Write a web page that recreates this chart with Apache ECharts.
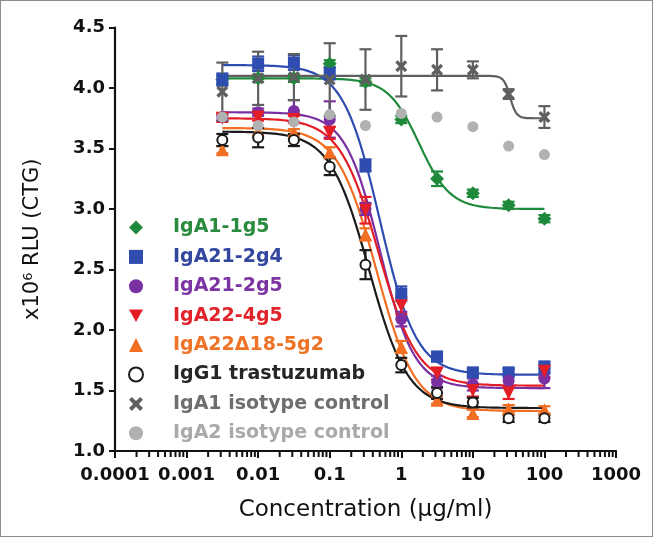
<!DOCTYPE html>
<html>
<head>
<meta charset="utf-8">
<script src="https://cdn.jsdelivr.net/npm/echarts@6/dist/echarts.min.js"></script>
<style>
html, body { margin: 0; padding: 0; background: #fff; }
#chart { position: absolute; left: 0; top: 0; width: 653px; height: 539px; }
#frame { position: absolute; left: 0; top: 0; width: 653px; height: 537px; box-sizing: border-box; border: 1px solid #8c8c8c; pointer-events: none; }
</style>
</head>
<body>
<div id="chart"></div>
<div id="frame"></div>
<script>
// concentrations (ug/ml), half-log dilutions
var conc = [0.00316, 0.01, 0.0316, 0.1, 0.316, 1, 3.16, 10, 31.6, 100];

var names = ['IgA1-1g5', 'IgA21-2g4', 'IgA21-2g5', 'IgA22-4g5', 'IgA22Δ18-5g2',
             'IgG1 trastuzumab', 'IgA1 isotype control', 'IgA2 isotype control'];

// x10^6 RLU
var igA1_1g5      = [4.07, 4.08, 4.08, 4.20, 4.05, 3.74, 3.25, 3.13, 3.03, 2.92];
var igA21_2g4     = [4.07, 4.20, 4.21, 4.12, 3.36, 2.30, 1.78, 1.65, 1.65, 1.69];
var igA21_2g5     = [3.76, 3.80, 3.81, 3.74, 3.00, 2.09, 1.57, 1.55, 1.58, 1.60];
var igA22_4g5     = [3.75, 3.76, 3.74, 3.63, 2.99, 2.20, 1.64, 1.50, 1.48, 1.66];
var igA22d18_5g2  = [3.49, 3.64, 3.63, 3.47, 2.79, 1.86, 1.42, 1.31, 1.35, 1.34];
var igG1Trast     = [3.57, 3.59, 3.57, 3.35, 2.54, 1.71, 1.48, 1.40, 1.27, 1.27];
var igA1Isotype   = [3.97, 4.08, 4.09, 4.07, 4.07, 4.18, 4.15, 4.15, 3.95, 3.76];
var igA2Isotype   = [3.76, 3.69, 3.72, 3.78, 3.69, 3.79, 3.76, 3.68, 3.52, 3.45];

// SEM bars
var errA1_1g5     = [0.03, 0.03, 0.03, 0.03, 0.03, 0.03, 0.06, 0.03, 0.03, 0.03];
var errA21_2g4    = [0.05, 0.06, 0.06, 0.05, 0.05, 0.06, 0.04, 0.03, 0.03, 0.05];
var errA21_2g5    = [0.03, 0.03, 0.09, 0.15, 0.05, 0.06, 0.05, 0.05, 0.05, 0.08];
var errA22_4g5    = [0.03, 0.03, 0.03, 0.05, 0.11, 0.07, 0.05, 0.05, 0.05, 0.05];
var errA22d18     = [0.03, 0.03, 0.03, 0.04, 0.05, 0.05, 0.03, 0.03, 0.03, 0.03];
var errG1         = [0.05, 0.08, 0.05, 0.07, 0.12, 0.06, 0.05, 0.04, 0.03, 0.03];
var errA1Iso      = [0.24, 0.22, 0.19, 0.30, 0.25, 0.25, 0.17, 0.07, 0.04, 0.09];

// 4PL fit parameters (top, bottom, logEC50, hill) for the first 7 groups
var fitTop     = [4.08, 4.19, 3.80, 3.75, 3.67, 3.64, 4.10];
var fitBottom  = [3.00, 1.63, 1.52, 1.54, 1.33, 1.355, 3.75];
var fitLogEC50 = [0.25, -0.30, -0.30, -0.32, -0.35, -0.45, 1.52];
var fitHill    = [2.0, 1.7, 1.8, 1.6, 1.6, 1.6, 10];

// x axis is drawn in log10 units
var xTickLabels = ['0.0001', '0.001', '0.01', '0.1', '1', '10', '100', '1000'];
var xMinExp = -4, xMaxExp = 3;
var yMin = 1, yMax = 4.5;

var colors     = ['#1f8a3b', '#2f4cb0', '#7a2fa3', '#e41e26', '#f26e22', '#1b1b1b', '#5f5f5f', '#b1b1b1'];
var textColors = ['#2a8a3e', '#34479f', '#7d34a3', '#e1242b', '#ef7326', '#262626', '#6e6e6e', '#a9a9a9'];
var symbols = ['diamond', 'rect', 'circle', 'path://M0,0 L10,0 L5,9 Z', 'triangle', 'emptyCircle',
               'path://M2,0 L5,3 L8,0 L10,2 L7,5 L10,8 L8,10 L5,7 L2,10 L0,8 L3,5 L0,2 Z', 'circle'];
var symbolSizes = [14, 12, 12, 13, 13, 10, 12, 11];

var values = [igA1_1g5, igA21_2g4, igA21_2g5, igA22_4g5, igA22d18_5g2, igG1Trast, igA1Isotype, igA2Isotype];
var errors = [errA1_1g5, errA21_2g4, errA21_2g5, errA22_4g5, errA22d18, errG1, errA1Iso, null];

// log minor ticks 2..9 in every decade
var minorTicks = [];
for (var d = xMinExp; d < xMaxExp; d++) {
    for (var m = 2; m <= 9; m++) minorTicks.push(d + Math.log10(m));
}

function fitLine(i) {
    var pts = [];
    var a = Math.log10(conc[0]), b = Math.log10(conc[conc.length - 1]);
    for (var k = 0; k <= 200; k++) {
        var lx = a + (b - a) * k / 200;
        var y = fitBottom[i] + (fitTop[i] - fitBottom[i]) / (1 + Math.pow(10, (lx - fitLogEC50[i]) * fitHill[i]));
        pts.push([lx, y]);
    }
    return pts;
}

function errorBars(color) {
    return function (params, api) {
        var x = api.value(0);
        var top = api.coord([x, api.value(2)]);
        var bot = api.coord([x, api.value(1)]);
        var w = 6;
        var st = { stroke: color, lineWidth: 2.2 };
        return {
            type: 'group',
            children: [
                { type: 'line', shape: { x1: top[0], y1: top[1], x2: bot[0], y2: bot[1] }, style: st },
                { type: 'line', shape: { x1: top[0] - w, y1: top[1], x2: top[0] + w, y2: top[1] }, style: st },
                { type: 'line', shape: { x1: bot[0] - w, y1: bot[1], x2: bot[0] + w, y2: bot[1] }, style: st }
            ]
        };
    };
}

var series = [];
// fitted curves underneath
for (var i = 0; i < fitTop.length; i++) {
    series.push({
        name: 'fit' + i, type: 'line', data: fitLine(i), showSymbol: false, silent: true,
        lineStyle: { color: colors[i], width: 2.2 }, z: 1
    });
}
names.forEach(function (n, i) {
    if (errors[i]) {
        series.push({
            name: 'err' + i, type: 'custom', silent: true, clip: false, z: 2,
            renderItem: errorBars(colors[i]),
            encode: { x: 0, y: [1, 2] },
            data: conc.map(function (c, k) {
                return [Math.log10(c), values[i][k] - errors[i][k], values[i][k] + errors[i][k]];
            })
        });
    }
    series.push({
        name: n, type: 'scatter', z: 2,
        symbol: symbols[i], symbolSize: symbolSizes[i],
        itemStyle: i === 5 ? { color: colors[i], borderColor: colors[i], borderWidth: 3, opacity: 1 }
                           : { color: colors[i], opacity: 1 },
        data: conc.map(function (c, k) { return [Math.log10(c), values[i][k]]; })
    });
});
// minor ticks of the log axis: thin rect marks hung under the axis line
series.push({
    name: 'minorTicks', type: 'scatter', silent: true, clip: false, z: 4,
    symbol: 'rect', symbolSize: [2, 5], symbolOffset: [0, 3.5],
    itemStyle: { color: '#111', opacity: 1 },
    data: minorTicks.map(function (v) { return [v, yMin]; })
});

var chart = echarts.init(document.getElementById('chart'));
chart.setOption({
    animation: false,
    grid: { left: 115, right: 37, top: 27.5, bottom: 88 },
    legend: {
        orient: 'vertical', left: 123, top: 212.5,
        itemWidth: 14, itemHeight: 14, itemGap: 9.4, selectedMode: false,
        textStyle: { fontFamily: 'DejaVu Sans', fontWeight: 'bold', fontSize: 19, lineHeight: 20, padding: [0, 0, 0, 25] },
        data: names.map(function (n, i) { return { name: n, textStyle: { color: textColors[i] } }; })
    },
    xAxis: {
        type: 'value', min: xMinExp, max: xMaxExp, interval: 1,
        name: 'Concentration (µg/ml)', nameLocation: 'middle', nameGap: 48,
        nameTextStyle: { fontFamily: 'DejaVu Sans', fontSize: 23, color: '#111' },
        axisLine: { onZero: false, lineStyle: { color: '#111', width: 2.2 } },
        axisTick: { length: 7, lineStyle: { color: '#111', width: 2 } },
        axisLabel: {
            margin: 15, showMinLabel: true, showMaxLabel: true,
            fontFamily: 'DejaVu Sans', fontWeight: 'bold', fontSize: 18, color: '#111',
            formatter: function (v) { return xTickLabels[Math.round(v) - xMinExp]; }
        },
        splitLine: { show: false }
    },
    yAxis: {
        type: 'value', min: yMin, max: yMax, interval: 0.5,
        name: '{a|x10}{s|6}{a| RLU (CTG)}', nameLocation: 'middle', nameGap: 72,
        nameTextStyle: {
            color: '#111',
            rich: {
                a: { fontFamily: 'DejaVu Sans', fontSize: 21, color: '#111' },
                s: { fontFamily: 'DejaVu Sans', fontSize: 13, color: '#111', verticalAlign: 'top' }
            }
        },
        axisLine: { show: true, onZero: false, lineStyle: { color: '#111', width: 2.2 } },
        axisTick: { show: true, length: 6, lineStyle: { color: '#111', width: 2 } },
        axisLabel: {
            margin: 10, fontFamily: 'DejaVu Sans', fontWeight: 'bold', fontSize: 18, color: '#111',
            formatter: function (v) { return v.toFixed(1); }
        },
        splitLine: { show: false }
    },
    series: series
});
</script>
</body>
</html>
